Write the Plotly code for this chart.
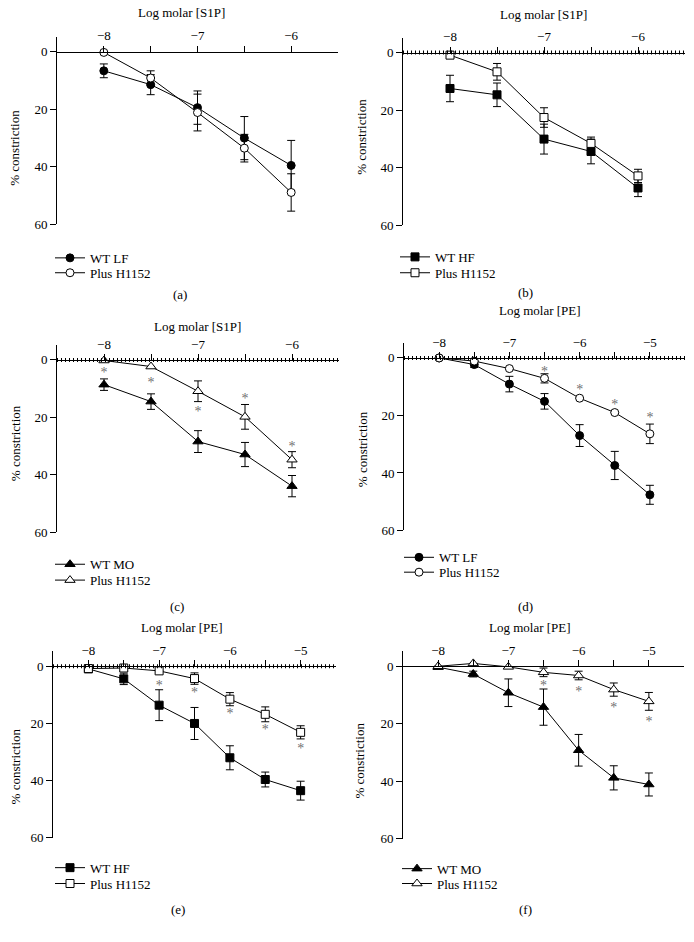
import plotly.graph_objects as go

W, H = 694, 942
FONT = "Liberation Serif, Times New Roman, Times, serif"

# ---------------- data ----------------
s1p_x = [-8, -7.5, -7, -6.5, -6]
pe_x = [-8, -7.5, -7, -6.5, -6, -5.5, -5]

a_wt = [6.7, 11.5, 19.5, 30.1, 39.6]
a_wt_err = [2.4, 3.5, 5.8, 7.5, 8.7]
a_plus = [0.3, 9.2, 21.2, 33.6, 49.0]
a_plus_err = [0, 2.5, 6.4, 4.8, 6.5]

b_wt = [12.5, 14.7, 30.1, 34.4, 47.1]
b_wt_err = [4.6, 4.1, 5.2, 4.3, 3.0]
b_plus = [0.9, 6.7, 22.6, 31.6, 42.9]
b_plus_err = [0, 2.9, 3.4, 2.2, 2.3]

c_wt = [8.6, 14.5, 28.4, 32.9, 43.9]
c_wt_err = [2.0, 2.7, 3.8, 4.2, 3.7]
c_plus = [0.2, 2.3, 10.9, 19.8, 34.7]
c_plus_err = [0, 0, 3.6, 4.3, 2.8]
c_star_x = [-8, -7.5, -7, -6.5, -6]
c_star_y = [3.7, 7.1, 17.2, 12.6, 29.3]

d_wt = [0, 2.3, 9.1, 15.1, 27.0, 37.4, 47.6]
d_wt_err = [0, 1.0, 2.7, 2.7, 3.8, 4.9, 3.3]
d_plus = [0, 1.1, 3.7, 7.1, 14.0, 19.0, 26.4]
d_plus_err = [0, 0, 0, 1.6, 0, 0, 3.4]
d_star_x = [-6.5, -6, -5.5, -5]
d_star_y = [3.7, 10.2, 15.4, 20.0]

e_wt = [0.9, 4.4, 13.6, 20.0, 32.0, 39.6, 43.5]
e_wt_err = [0, 2.0, 5.4, 5.6, 4.2, 2.6, 3.3]
e_plus = [0.8, 0.6, 1.6, 4.3, 11.5, 16.8, 23.1]
e_plus_err = [0, 1.0, 0, 2.0, 2.3, 2.6, 2.3]
e_star_x = [-7, -6.5, -6, -5.5, -5]
e_star_y = [5.8, 8.4, 15.8, 21.3, 27.9]

f_wt = [0.3, 2.7, 9.2, 14.2, 29.2, 38.8, 41.1]
f_wt_err = [0, 1.0, 4.8, 6.3, 5.5, 4.2, 4.0]
f_plus = [0.0, -1.0, 0.2, 2.1, 3.2, 8.1, 12.2]
f_plus_err = [0, 0, 0, 1.5, 1.5, 2.3, 3.1]
f_star_x = [-6.5, -6, -5.5, -5]
f_star_y = [5.8, 7.8, 13.4, 18.2]

y_ticks = [0, 20, 40, 60]
s1p_ticks = [-8, -7.5, -7, -6.5, -6]
s1p_labels = ["\u22128", "", "\u22127", "", "\u22126"]
pe_ticks = [-8, -7.5, -7, -6.5, -6, -5.5, -5]
pe_labels = ["\u22128", "", "\u22127", "", "\u22126", "", "\u22125"]

panels = [
    dict(tag="(a)", x=s1p_x, wt=a_wt, wte=a_wt_err, pl=a_plus, ple=a_plus_err,
         sym="circle", wt_name="WT LF", sx=None, sy=None, xr=[-8.5, -5.5],
         tv=s1p_ticks, tt=s1p_labels, xt="Log molar [S1P]", dotted=False,
         px=(57, 338), py=(52, 226), title=(181, 13), ytitle=(15, 149),
         tagpos=(180, 297), leg=(70, 257, 272)),
    dict(tag="(b)", x=s1p_x, wt=b_wt, wte=b_wt_err, pl=b_plus, ple=b_plus_err,
         sym="square", wt_name="WT HF", sx=None, sy=None, xr=[-8.5, -5.5],
         tv=s1p_ticks, tt=s1p_labels, xt="Log molar [S1P]", dotted=True,
         px=(403, 685), py=(53, 227), title=(543, 15), ytitle=(362, 138),
         tagpos=(525, 295), leg=(415, 256, 272)),
    dict(tag="(c)", x=s1p_x, wt=c_wt, wte=c_wt_err, pl=c_plus, ple=c_plus_err,
         sym="triangle-up", wt_name="WT MO", sx=c_star_x, sy=c_star_y, xr=[-8.5, -5.5],
         tv=s1p_ticks, tt=s1p_labels, xt="Log molar [S1P]", dotted=True,
         px=(57, 339), py=(363, 537), title=(197, 329), ytitle=(15, 447),
         tagpos=(177, 612), leg=(70, 566, 582)),
    dict(tag="(d)", x=pe_x, wt=d_wt, wte=d_wt_err, pl=d_plus, ple=d_plus_err,
         sym="circle", wt_name="WT LF", sx=d_star_x, sy=d_star_y, xr=[-8.5, -4.5],
         tv=pe_ticks, tt=pe_labels, xt="Log molar [PE]", dotted=True,
         px=(404, 685), py=(361, 535), title=(540, 313), ytitle=(362, 453),
         tagpos=(525, 612), leg=(419, 559, 574)),
    dict(tag="(e)", x=pe_x, wt=e_wt, wte=e_wt_err, pl=e_plus, ple=e_plus_err,
         sym="square", wt_name="WT HF", sx=e_star_x, sy=e_star_y, xr=[-8.5, -4.5],
         tv=pe_ticks, tt=pe_labels, xt="Log molar [PE]", dotted=True,
         px=(53, 336), py=(672, 845), title=(182, 633), ytitle=(15, 773),
         tagpos=(178, 917), leg=(70, 872, 888)),
    dict(tag="(f)", x=pe_x, wt=f_wt, wte=f_wt_err, pl=f_plus, ple=f_plus_err,
         sym="triangle-up", wt_name="WT MO", sx=f_star_x, sy=f_star_y, xr=[-8.5, -4.5],
         tv=pe_ticks, tt=pe_labels, xt="Log molar [PE]", dotted=False,
         px=(403, 684), py=(672, 846), title=(530, 633), ytitle=(359, 767),
         tagpos=(525, 917), leg=(417, 873, 888)),
]

Y_TOP = -5.2
STAR_SHIFT = 1.2  # compensates for the asterisk glyph sitting high in its text box
fig = go.Figure()
layout = dict(width=W, height=H, margin=dict(l=0, r=0, t=0, b=0),
              plot_bgcolor="white", paper_bgcolor="white", showlegend=True,
              font=dict(family=FONT, size=13, color="black"))
annotations = []
shapes = []


def legend_box(xpx, ypx):
    return dict(x=(xpx - 20) / W, y=1 - (ypx - 12) / H,
                xanchor="left", yanchor="top", bgcolor="rgba(0,0,0,0)",
                borderwidth=0, font=dict(family=FONT, size=13, color="black"))


for i, p in enumerate(panels, start=1):
    sfx = "" if i == 1 else str(i)
    xa, ya = "x" + sfx, "y" + sfx
    lg1 = "legend" + ("" if i == 1 else str(2 * i - 1))
    lg2 = "legend" + str(2 * i)
    msize = 9 if p["sym"] == "triangle-up" else 8
    fig.add_trace(go.Scatter(
        x=p["x"], y=p["wt"], mode="lines+markers", name=p["wt_name"],
        xaxis=xa, yaxis=ya, legend=lg1,
        line=dict(color="black", width=1),
        marker=dict(symbol=p["sym"], size=msize, color="black",
                    line=dict(color="black", width=1)),
        error_y=dict(type="data", array=p["wte"], color="black", thickness=1, width=4)))
    fig.add_trace(go.Scatter(
        x=p["x"], y=p["pl"], mode="lines+markers", name="Plus H1152",
        xaxis=xa, yaxis=ya, legend=lg2,
        line=dict(color="black", width=1),
        marker=dict(symbol=p["sym"], size=msize, color="white",
                    line=dict(color="black", width=1)),
        error_y=dict(type="data", array=p["ple"], color="black", thickness=1, width=4)))
    if p["sx"] is not None:
        fig.add_trace(go.Scatter(
            x=p["sx"], y=[v + STAR_SHIFT for v in p["sy"]], mode="text",
            text=["*"] * len(p["sx"]),
            textposition="middle center", showlegend=False,
            textfont=dict(family=FONT, size=14, color="#707070"),
            xaxis=xa, yaxis=ya, hoverinfo="skip"))

    x0, x1 = p["px"]
    y0px, y60px = p["py"]
    scale = (y60px - y0px) / 60.0
    ytop_px = y0px + Y_TOP * scale
    layout["xaxis" + sfx] = dict(
        domain=[x0 / W, x1 / W], range=p["xr"], anchor="free",
        position=1 - y0px / H, side="top", showgrid=False, zeroline=False,
        showline=True, linecolor="black", linewidth=1,
        tickmode="array", tickvals=p["tv"], ticktext=p["tt"],
        ticks="outside", ticklen=6, tickcolor="black", tickwidth=1,
        tickfont=dict(family=FONT, size=13, color="black"), fixedrange=True)
    layout["yaxis" + sfx] = dict(
        domain=[1 - y60px / H, 1 - ytop_px / H], range=[60, Y_TOP],
        anchor=xa, showgrid=False, zeroline=False,
        showline=True, linecolor="black", linewidth=1,
        tickmode="array", tickvals=y_ticks,
        ticks="outside", ticklen=6, tickcolor="black", tickwidth=1,
        tickfont=dict(family=FONT, size=13, color="black"), fixedrange=True)
    layout[lg1] = legend_box(p["leg"][0], p["leg"][1])
    layout[lg2] = legend_box(p["leg"][0], p["leg"][2])
    if p["dotted"]:
        shapes.append(dict(type="line", xref=xa + " domain", yref=ya,
                           x0=0, x1=1, y0=0, y1=0,
                           line=dict(color="black", width=4, dash="1px,3px")))
    annotations.append(dict(text=p["xt"], x=p["title"][0] / W, y=1 - p["title"][1] / H,
                            xref="paper", yref="paper", showarrow=False,
                            xanchor="center", yanchor="middle",
                            font=dict(family=FONT, size=13, color="black")))
    annotations.append(dict(text="% constriction", x=p["ytitle"][0] / W,
                            y=1 - p["ytitle"][1] / H, xref="paper", yref="paper",
                            showarrow=False, textangle=-90,
                            xanchor="center", yanchor="middle",
                            font=dict(family=FONT, size=13, color="black")))
    annotations.append(dict(text=p["tag"], x=p["tagpos"][0] / W, y=1 - p["tagpos"][1] / H,
                            xref="paper", yref="paper", showarrow=False,
                            xanchor="center", yanchor="middle",
                            font=dict(family=FONT, size=13, color="black")))

layout["annotations"] = annotations
layout["shapes"] = shapes
fig.update_layout(**layout)
fig.write_html("out.html", config={"displayModeBar": False},
               post_script="document.body.style.margin='0';")
